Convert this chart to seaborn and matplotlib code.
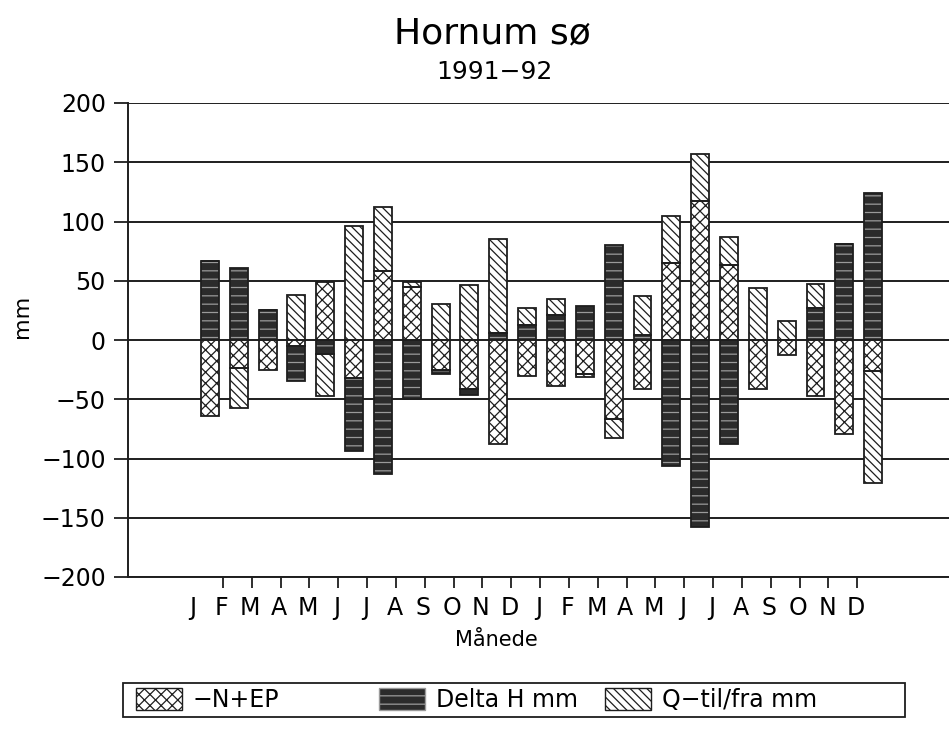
import numpy as np
import pandas as pd
import seaborn as sns
import matplotlib.pyplot as plt
from matplotlib.patches import Patch, Rectangle

# months 1991-92
months = list("JFMAMJJASOND") * 2
# -N+EP, Delta H and Q-til/fra (mm)
nep = [-64, -24, -25, -5, 49, -32, 58, 45, -25, -41, -88, -30,
       -39, -29, -67, -41, 65, 117, 63, -41, -13, -47, -79, -26]
delta_h = [67, 61, 25, -30, -12, -62, -113, -50, -4, -5, 6, 13,
           21, 29, 80, 4, -106, -158, -88, 0, 0, 27, 81, 124]
q_flow = [0, -33, 0, 38, -35, 96, 54, 4, 30, 46, 79, 14,
          14, -2, -16, 33, 40, 40, 24, 44, 16, 20, 0, -95]
series_names = ["\u2212N+EP", "Delta H mm", "Q\u2212til/fra mm"]
yticks = [-200, -150, -100, -50, 0, 50, 100, 150, 200]

df = pd.DataFrame({"month": months, "nep": nep, "dh": delta_h, "q": q_flow})

sns.set_style("white")
plt.rcParams['font.family'] = ['DejaVu Sans']
plt.rcParams['hatch.linewidth'] = 0.9
for k in ["text.color", "axes.labelcolor", "xtick.color", "ytick.color"]:
    plt.rcParams[k] = "black"

W, H = 949, 743
fig = plt.figure(figsize=(W / 100, H / 100), dpi=100)
ax = fig.add_axes([128 / W, 1 - 577 / H, 1 - 128 / W, (577 - 103) / H])

dark = "#1e1e1e"
styles = [
    dict(facecolor="white", edgecolor=dark, hatch="xxx"),
    dict(facecolor="#2b2b2b", edgecolor="#9a9a9a", hatch="--"),
    dict(facecolor="white", edgecolor=dark, hatch="\\\\\\\\"),
]

x = np.arange(len(df))
pos = np.zeros(len(df))
neg = np.zeros(len(df))
for col, st in zip(["nep", "dh", "q"], styles):
    v = df[col].to_numpy(float)
    bottom = np.where(v >= 0, pos, neg)
    ax.bar(x, v, width=0.62, bottom=bottom, linewidth=0, zorder=3, **st)
    ax.bar(x, v, width=0.62, bottom=bottom, fill=False, edgecolor=dark,
           linewidth=1.3, zorder=4)
    pos += np.clip(v, 0, None)
    neg += np.clip(v, None, 0)

ax.set_ylim(-200, 200)
ax.set_xlim(-2.84, 25.63)
ax.set_yticks(yticks)
ax.set_yticklabels([str(t).replace("-", "\u2212") for t in yticks], fontsize=17)
ax.grid(axis="y", color=dark, linewidth=1.4, zorder=0)
ax.set_axisbelow(True)

ax.set_xticks(x - 0.6)
ax.set_xticklabels(months, fontsize=17)
ax.set_xticks(np.arange(23) + 0.45, minor=True)
ax.tick_params(axis="x", which="major", length=0, pad=14)
ax.tick_params(axis="x", which="minor", length=8, width=1.3, color=dark,
               direction="out", bottom=True)
ax.tick_params(axis="y", length=10, width=1.3, color=dark,
               direction="out", left=True, pad=6)

for s in ["top", "right"]:
    ax.spines[s].set_visible(False)
for s in ["left", "bottom"]:
    ax.spines[s].set_color(dark)
    ax.spines[s].set_linewidth(1.4)

ax.set_xlabel("Månede", fontsize=15)
ax.xaxis.set_label_coords((496 - 128) / (W - 128), (577 - 630) / (577 - 103))
fig.text(22 / W, 1 - 316 / H, "mm", rotation=90, ha="center", va="center",
         fontsize=16)

fig.text(492 / W, 1 - 33 / H, "Hornum sø", ha="center", va="center",
         fontsize=26)
fig.text(494 / W, 1 - 72 / H, "1991\u221292", ha="center", va="center",
         fontsize=18)

# legend: box with three entries
fig.patches.append(Rectangle((123 / W, 1 - 717 / H), 782 / W, 34 / H,
                             transform=fig.transFigure, fill=False,
                             edgecolor=dark, linewidth=1.3))
for st, name, x0 in zip(styles, series_names, [136, 379, 605]):
    fig.legend([Patch(**st, linewidth=1.0)], [name], loc="center left",
               bbox_to_anchor=(x0 / W, 1 - 700 / H), frameon=False,
               fontsize=17, handlelength=1.95, handleheight=1.1,
               handletextpad=0.45, borderpad=0, borderaxespad=0)

fig.savefig("out.png", dpi=100, facecolor="white")
